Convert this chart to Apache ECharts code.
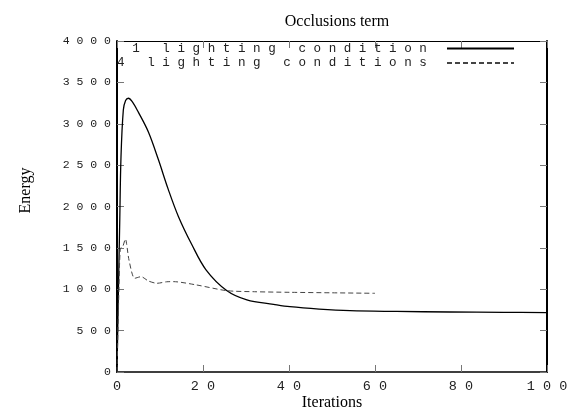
<!DOCTYPE html>
<html>
<head>
<meta charset="utf-8">
<script src="https://cdn.jsdelivr.net/npm/echarts@6/dist/echarts.min.js"></script>
<style>
html,body{margin:0;padding:0;background:#fff;}
#c{width:579px;height:412px;}
</style>
</head>
<body>
<div id="c"></div>
<script>
var titleText = 'Occlusions term';
var xName = 'Iterations';
var yName = 'Energy';
var seriesNames = ['1 lighting condition', '4 lighting conditions'];

var oneX = [0, 0.3, 0.63, 0.93, 1.47, 2, 2.64, 3.5, 4.96, 7.3, 9.6, 11.9, 14.3, 17.3, 20.7, 25.5, 30.2, 36.4, 40.2, 47, 54.2, 65, 77.4, 90, 100];
var oneY = [0, 900, 1800, 2600, 3166, 3280, 3308, 3270, 3140, 2900, 2570, 2210, 1877, 1550, 1235, 985, 872, 818, 789, 760, 741, 732, 725, 721, 718];

var fourX = [0, 0.4, 0.77, 1.3, 1.94, 2.8, 4.1, 5.6, 7.3, 9.3, 11.5, 13.1, 18.5, 25.5, 32, 40.2, 50, 60];
var fourY = [0, 900, 1494, 1510, 1607, 1350, 1132, 1152, 1100, 1072, 1090, 1092, 1052, 983, 970, 963, 957, 951];

function pairs(xs, ys){ return xs.map(function(x,i){ return [x, ys[i]]; }); }
function spaced(s){ return String(s).split('').join(' '); }

var mono = 'Liberation Mono';
var tickStyle = {show: true, inside: true, length: 7, lineStyle: {color: '#777'}};
var chart = echarts.init(document.getElementById('c'), null, {renderer:'canvas'});
chart.setOption({
  animation: false,
  backgroundColor: '#fff',
  title: {
    text: titleText, left: 332, top: 9, textAlign: 'center',
    textStyle: {fontFamily: 'Liberation Serif', fontSize: 16, fontWeight: 'normal', color: '#000'}
  },
  grid: {left: 117, right: 32, top: 41, bottom: 40, outerBoundsMode: 'none', containLabel: false},
  legend: {
    orient: 'vertical', right: 64, top: 42, align: 'right', padding: 0,
    itemWidth: 67, itemHeight: 8, itemGap: 1.5,
    itemStyle: {opacity: 0},
    formatter: function(n){
      var t = spaced(n);
      while (t.length < 41) t = ' ' + t;
      return t + '  ';
    },
    textStyle: {fontFamily: mono, fontSize: 12.6, color: '#222'},
    data: seriesNames
  },
  xAxis: [{
    type: 'value', min: 0, max: 100, interval: 20, position: 'bottom',
    name: xName, nameLocation: 'middle', nameGap: 23, nameMoveOverlap: false,
    nameTextStyle: {fontFamily: 'Liberation Serif', fontSize: 16, color: '#000'},
    axisLine: {show: true, onZero: false, lineStyle: {color: '#000', width: 1.5}},
    axisTick: tickStyle,
    axisLabel: {formatter: spaced, fontFamily: mono, fontSize: 13.5, color: '#222', margin: 7},
    splitLine: {show: false}
  }, {
    type: 'value', min: 0, max: 100, interval: 20, position: 'top',
    axisLine: {show: true, onZero: false, lineStyle: {color: '#000', width: 1.2}},
    axisTick: tickStyle,
    axisLabel: {show: false}, splitLine: {show: false}
  }],
  yAxis: [{
    type: 'value', min: 0, max: 4000, interval: 500, position: 'left',
    name: yName, nameLocation: 'middle', nameGap: 83, nameMoveOverlap: false,
    nameTextStyle: {fontFamily: 'Liberation Serif', fontSize: 16, color: '#000', padding: [0, 0, 0, 32]},
    axisLine: {show: true, onZero: false, lineStyle: {color: '#000', width: 2}},
    axisTick: tickStyle,
    axisLabel: {formatter: spaced, fontFamily: mono, fontSize: 11.5, color: '#222', margin: 6},
    splitLine: {show: false}
  }, {
    type: 'value', min: 0, max: 4000, interval: 500, position: 'right',
    axisLine: {show: true, onZero: false, lineStyle: {color: '#000', width: 2}},
    axisTick: tickStyle,
    axisLabel: {show: false}, splitLine: {show: false}
  }],
  series: [{
    name: seriesNames[0], type: 'line', xAxisIndex: 0, yAxisIndex: 0,
    data: pairs(oneX, oneY), smooth: 0.35, symbol: 'none',
    lineStyle: {color: '#000', width: 1.3, type: 'solid'},
    itemStyle: {color: '#000'}
  }, {
    name: seriesNames[1], type: 'line', xAxisIndex: 0, yAxisIndex: 0,
    data: pairs(fourX, fourY), smooth: 0.25, symbol: 'none',
    lineStyle: {color: '#444', width: 1, type: [5, 3]},
    itemStyle: {color: '#444'}
  }]
});
</script>
</body>
</html>
